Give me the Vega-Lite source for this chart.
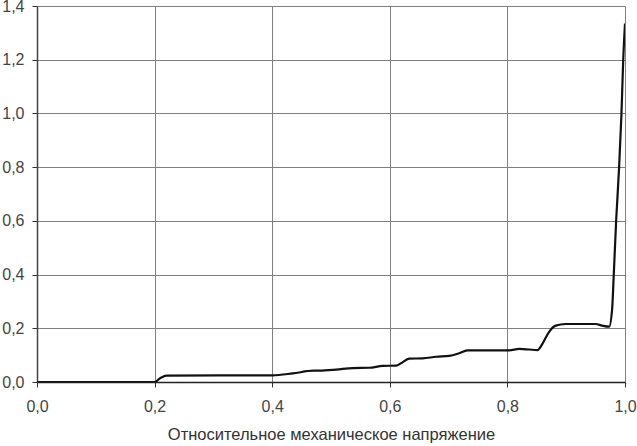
{
  "$schema": "https://vega.github.io/schema/vega-lite/v6.json",
  "autosize": "none",
  "width": 588,
  "height": 376,
  "padding": {"left": 37, "top": 6, "right": 12, "bottom": 64},
  "background": "white",
  "data": {"values": [
    {"x": 0, "y": 0},
    {"x": 0.2, "y": 0},
    {"x": 0.21, "y": 0.015},
    {"x": 0.22, "y": 0.024},
    {"x": 0.4, "y": 0.025},
    {"x": 0.435, "y": 0.032},
    {"x": 0.47, "y": 0.042},
    {"x": 0.48, "y": 0.042},
    {"x": 0.509, "y": 0.046},
    {"x": 0.537, "y": 0.052},
    {"x": 0.565, "y": 0.053},
    {"x": 0.588, "y": 0.06},
    {"x": 0.611, "y": 0.061},
    {"x": 0.619, "y": 0.07},
    {"x": 0.633, "y": 0.087},
    {"x": 0.656, "y": 0.088},
    {"x": 0.679, "y": 0.094},
    {"x": 0.701, "y": 0.097},
    {"x": 0.718, "y": 0.107},
    {"x": 0.732, "y": 0.118},
    {"x": 0.764, "y": 0.118},
    {"x": 0.803, "y": 0.118},
    {"x": 0.82, "y": 0.123},
    {"x": 0.837, "y": 0.121},
    {"x": 0.851, "y": 0.119},
    {"x": 0.86, "y": 0.144},
    {"x": 0.871, "y": 0.187},
    {"x": 0.882, "y": 0.21},
    {"x": 0.899, "y": 0.216},
    {"x": 0.95, "y": 0.216},
    {"x": 0.961, "y": 0.21},
    {"x": 0.973, "y": 0.206},
    {"x": 0.978, "y": 0.268},
    {"x": 0.981, "y": 0.405},
    {"x": 0.985, "y": 0.603},
    {"x": 0.99, "y": 0.8},
    {"x": 0.994, "y": 1.0},
    {"x": 0.997, "y": 1.2},
    {"x": 1.0, "y": 1.335}
  ]},
  "mark": {"type": "line", "color": "#111111", "strokeWidth": 2.2, "interpolate": "monotone", "clip": true},
  "encoding": {
    "x": {
      "field": "x", "type": "quantitative",
      "scale": {"domain": [0, 1], "nice": false, "zero": true},
      "axis": {
        "values": [0, 0.2, 0.4, 0.6, 0.8, 1.0],
        "labelExpr": "replace(format(datum.value, '.1f'), '.', ',')",
        "title": "Относительное механическое напряжение",
        "titleFont": "Liberation Sans", "titleFontSize": 16.5, "titleFontWeight": "normal", "titleColor": "#333333",
        "titlePadding": 12,
        "labelFont": "Liberation Sans", "labelFontSize": 16, "labelColor": "#444444", "labelPadding": 11,
        "tickSize": 5, "tickColor": "#333333",
        "domainColor": "#222222", "domainWidth": 1.5,
        "grid": true, "gridColor": "#7f7f7f", "gridWidth": 1, "gridOpacity": 1,
        "labelFlush": false
      }
    },
    "y": {
      "field": "y", "type": "quantitative",
      "scale": {"domain": [0, 1.4], "nice": false},
      "axis": {
        "values": [0, 0.2, 0.4, 0.6, 0.8, 1.0, 1.2, 1.4],
        "labelExpr": "replace(format(datum.value, '.1f'), '.', ',')",
        "title": null,
        "labelFont": "Liberation Sans", "labelFontSize": 16, "labelColor": "#444444", "labelPadding": 8,
        "tickSize": 5, "tickColor": "#333333",
        "domainColor": "#444444", "domainWidth": 1.5,
        "grid": true, "gridColor": "#7f7f7f", "gridWidth": 1, "gridOpacity": 1,
        "labelFlush": false
      }
    }
  },
  "config": {"view": {"stroke": null}}
}
